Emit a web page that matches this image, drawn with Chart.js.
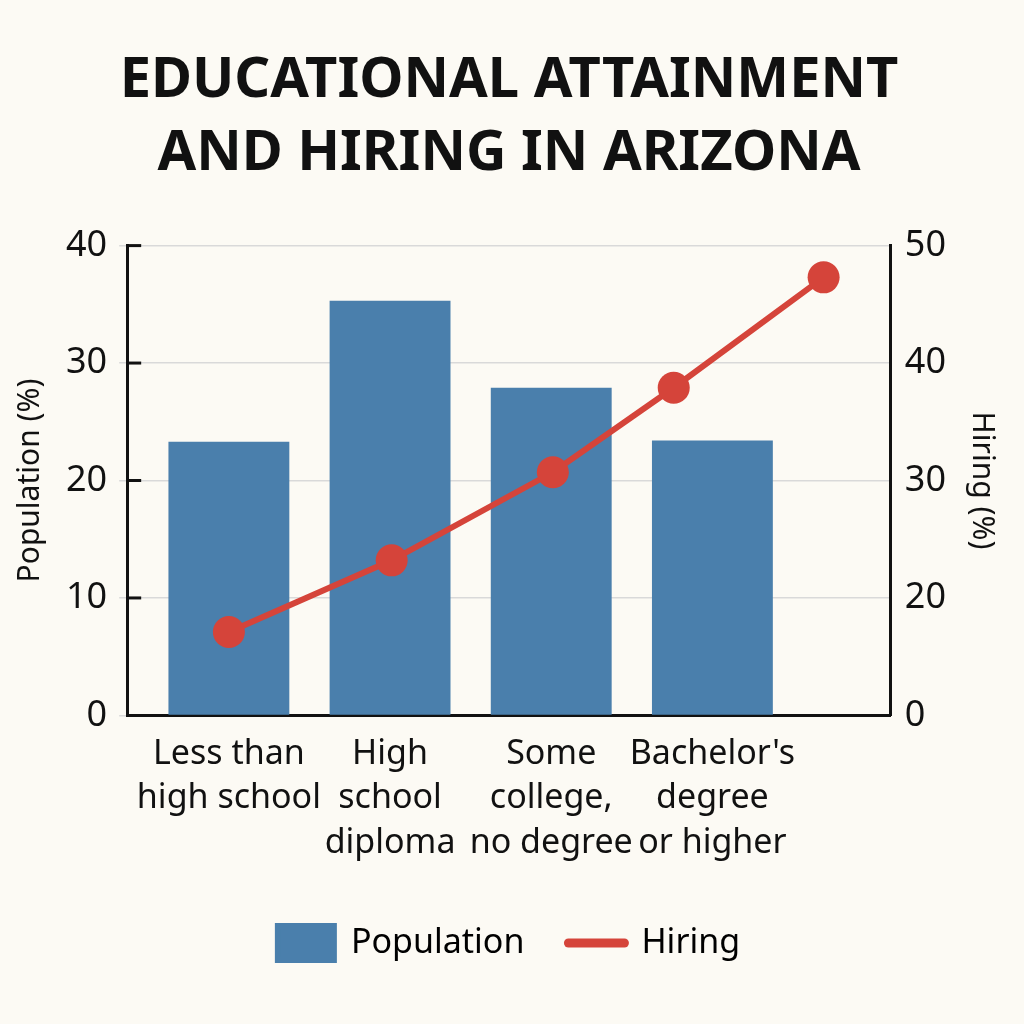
<!DOCTYPE html>
<html>
<head>
<meta charset="utf-8">
<title>Educational Attainment and Hiring in Arizona</title>
<script src="https://cdn.jsdelivr.net/npm/chart.js@4.4.1/dist/chart.umd.min.js"></script>
<style>
    html, body { margin: 0; padding: 0; background: #fcfaf4; }
    #wrap { width: 1024px; height: 1024px; }
</style>
</head>
<body>
<div id="wrap"><canvas id="myChart" width="1024" height="1024"></canvas></div>
<script>
// categories and series
const categories = [
    ["Less than", "high school"],
    ["High", "school", "diploma"],
    ["Some", "college,", "no degree"],
    ["Bachelor's", "degree", "or higher"]
];
const populationValues = [23.3, 35.3, 27.9, 23.4];
// hiring has 5 markers, positions given in category units
const hiringPos = [0, 1.01, 2.01, 2.76, 3.69];
const hiringValues = [17.1, 23.2, 30.7, 37.9, 47.3];
const leftTicks = [0, 10, 20, 30, 40];
const rightTicks = [10, 20, 30, 40, 50];

const barColor = "#4a7fac";
const lineColor = "#d5443a";
const inkColor = "#111111";
const gridColor = "#d9d9d9";

// small black tick marks inside the left axis
const innerTicks = {
    id: "innerTicks",
    afterDraw(chart) {
        const ctx = chart.ctx;
        const y = chart.scales.y;
        const left = chart.chartArea.left;
        ctx.save();
        ctx.strokeStyle = inkColor;
        ctx.lineWidth = 3;
        leftTicks.forEach(function (v) {
            if (v === 0) return;
            const py = y.getPixelForValue(v);
            ctx.beginPath();
            ctx.moveTo(left, py);
            ctx.lineTo(left + 14, py);
            ctx.stroke();
        });
        ctx.restore();
    }
};

const chartConfig = new Chart(document.getElementById("myChart"), {
    type: "bar",
    data: {
        datasets: [
            {
                type: "bar",
                label: "Population",
                data: populationValues.map((v, i) => ({ x: i, y: v })),
                backgroundColor: barColor,
                barPercentage: 0.75,
                categoryPercentage: 1.0,
                yAxisID: "y",
                order: 1
            },
            {
                type: "line",
                label: "Hiring",
                data: hiringValues.map((v, i) => ({ x: hiringPos[i], y: v })),
                borderColor: lineColor,
                backgroundColor: lineColor,
                borderWidth: 6,
                pointRadius: 16,
                pointBorderWidth: 0,
                pointBackgroundColor: lineColor,
                tension: 0,
                yAxisID: "y1",
                order: 0
            }
        ]
    },
    options: {
        responsive: false,
        animation: false,
        devicePixelRatio: 1,
        layout: { padding: { left: 8, right: 14, top: 0, bottom: 54 } },
        plugins: {
            tooltip: { enabled: false },
            title: {
                display: true,
                text: ["EDUCATIONAL ATTAINMENT", "AND HIRING IN ARIZONA"],
                color: inkColor,
                font: { family: "Noto Sans", size: 56, weight: "bold", lineHeight: 1.3 },
                padding: { top: 45, bottom: 55 }
            },
            legend: {
                position: "bottom",
                labels: {
                    usePointStyle: true,
                    pointStyleWidth: 56,
                    boxHeight: 34,
                    padding: 44,
                    color: inkColor,
                    font: { family: "Noto Sans", size: 34 },
                    generateLabels: function () {
                        return [
                            { text: "Population", fillStyle: barColor, strokeStyle: barColor, lineWidth: 6, pointStyle: "rect", datasetIndex: 0 },
                            { text: "Hiring", fillStyle: lineColor, strokeStyle: lineColor, lineWidth: 9, lineCap: "round", pointStyle: "line", datasetIndex: 1 }
                        ];
                    }
                }
            }
        },
        scales: {
            x: {
                type: "linear",
                min: -0.631,
                max: 4.107,
                offset: false,
                afterBuildTicks: function (scale) {
                    scale.ticks = categories.map((c, i) => ({ value: i }));
                },
                grid: { display: true, drawOnChartArea: false, drawTicks: false, offset: false },
                border: { display: true, color: inkColor, width: 3 },
                ticks: {
                    autoSkip: false,
                    maxRotation: 0,
                    minRotation: 0,
                    padding: 17,
                    color: inkColor,
                    font: { family: "Noto Sans", size: 34, lineHeight: 1.3 },
                    callback: function (value) {
                        return categories[value] || "";
                    }
                }
            },
            y: {
                position: "left",
                min: 0,
                max: 40,
                afterBuildTicks: function (scale) {
                    scale.ticks = leftTicks.map(v => ({ value: v }));
                },
                grid: { color: gridColor, lineWidth: 1.5, tickLength: 8, tickColor: gridColor },
                border: { display: true, color: inkColor, width: 3 },
                ticks: { padding: 12, color: inkColor, font: { family: "Noto Sans", size: 36 } },
                title: {
                    display: true,
                    text: "Population (%)",
                    color: inkColor,
                    font: { family: "Noto Sans", size: 30 },
                    padding: { top: 4, bottom: 6 }
                }
            },
            y1: {
                position: "right",
                min: 10,
                max: 50,
                afterBuildTicks: function (scale) {
                    scale.ticks = rightTicks.map(v => ({ value: v }));
                },
                grid: { drawOnChartArea: false, drawTicks: false },
                border: { display: true, color: inkColor, width: 3 },
                ticks: {
                    padding: 14,
                    color: inkColor,
                    font: { family: "Noto Sans", size: 36 },
                    // the reference prints 0 at the bottom of this axis
                    callback: function (value) {
                        return value === 10 ? "0" : value;
                    }
                },
                title: {
                    display: true,
                    text: "Hiring (%)",
                    color: inkColor,
                    font: { family: "Noto Sans", size: 30 },
                    padding: { top: 10, bottom: 4 }
                }
            }
        }
    },
    plugins: [innerTicks]
});
</script>
</body>
</html>
